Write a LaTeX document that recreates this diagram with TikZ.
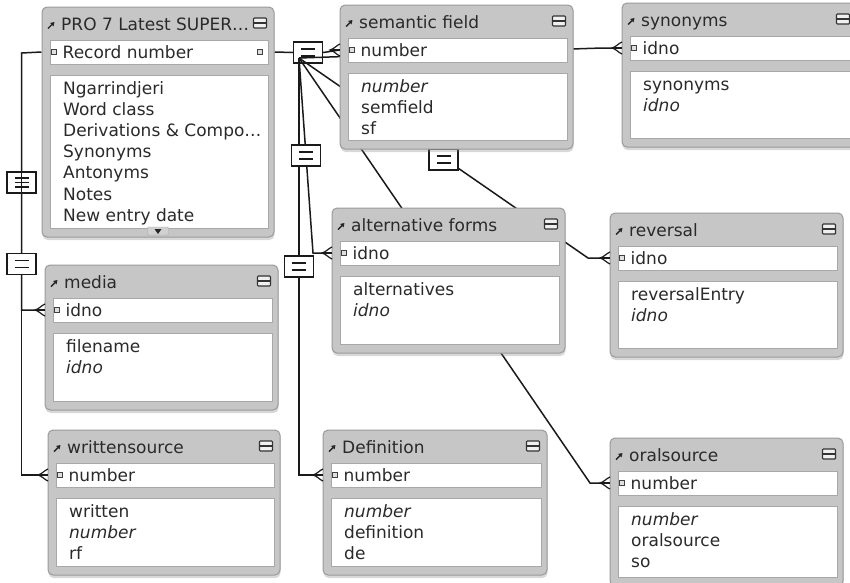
\documentclass[tikz,border=0pt]{standalone}
\usepackage{fontspec}
\setmainfont{DejaVu Sans}
\usetikzlibrary{fit,calc,shadows,arrows.meta}
\definecolor{txt}{HTML}{2A2A2A}
\definecolor{frm}{HTML}{C6C6C6}
\definecolor{frmline}{HTML}{9A9A9A}
\definecolor{pnl}{HTML}{A8A8A8}
\definecolor{rel}{HTML}{1A1A1A}
\pgfdeclarelayer{bg}
\pgfsetlayers{bg,main}
\tikzset{
  frame/.style={draw=frmline, fill=frm, rounded corners=5pt, line width=1pt, inner sep=0pt,
    drop shadow={shadow xshift=0.5pt, shadow yshift=-3pt, opacity=0.3}},
  panel/.style={draw=pnl, fill=white, line width=0.8pt, inner sep=0pt},
  ttl/.style={anchor=base west, inner sep=0pt, text=txt, font=\fontsize{17}{20}\selectfont},
  fld/.style={anchor=base west, inner sep=0pt, text=txt, font=\fontsize{17}{20}\selectfont},
  kbul/.style={draw=black!75, fill=black!12, minimum size=4.5pt, inner sep=0pt, line width=0.8pt},
  minbtn/.style={draw=black!80, fill=black!6, rounded corners=0.8pt, minimum width=13pt,
    minimum height=10pt, inner sep=0pt, line width=1.1pt,
    path picture={\draw[black!80, line width=1.3pt]
      (path picture bounding box.west) -- (path picture bounding box.east);}},
  relline/.style={draw=rel, line width=1.5pt},
  eqbox/.style={draw=rel, fill=white, line width=1.3pt, minimum width=29pt, minimum height=21pt, inner sep=0pt,
    path picture={\draw[rel, line width=1.2pt]
      ([xshift=-7pt,yshift=3.5pt]path picture bounding box.center) -- ([xshift=7pt,yshift=3.5pt]path picture bounding box.center)
      ([xshift=-7pt,yshift=-3.5pt]path picture bounding box.center) -- ([xshift=7pt,yshift=-3.5pt]path picture bounding box.center);}},
  eqboxiii/.style={draw=rel, fill=white, line width=1.3pt, minimum width=29pt, minimum height=21pt, inner sep=0pt,
    path picture={\draw[rel, line width=1.2pt]
      ([xshift=-7pt,yshift=4.5pt]path picture bounding box.center) -- ([xshift=7pt,yshift=4.5pt]path picture bounding box.center)
      ([xshift=-7pt]path picture bounding box.center) -- ([xshift=7pt]path picture bounding box.center)
      ([xshift=-7pt,yshift=-4.5pt]path picture bounding box.center) -- ([xshift=7pt,yshift=-4.5pt]path picture bounding box.center);}},
  crow/.pic={\draw[rel, line width=1.5pt] (-10,0) -- (0,0);
    \draw[rel, line width=1.2pt] (0,-6) .. controls (-3,-5) and (-6,-1) .. (-10,0) .. controls (-6,1) and (-3,5) .. (0,6);},
}
\newcommand\tbl[8]{%
  \node[frame, fit={(#2,#3) (#4,#5)}] (#1) {};
  \node[panel, fit={({#2+8},{#3+33}) ({#4-6},{#3+57})}] (#1-key) {};
  \node[panel, fit={({#2+8},{#3+68}) ({#4-6},{#5-9})}] (#1-body) {};
  \node[ttl] (#1-title) at ({#2+19},{#3+23}) {#6};
  \node[minbtn] (#1-min) at ({#4-14},{#3+16}) {};
  \draw[-{Triangle[length=3.8pt,width=4.6pt]}, line width=1.4pt, black!85] ({#2+6},{#3+21.5}) -- ({#2+12.5},{#3+15});
  \node[kbul] (#1-kb) at ({#2+12},{#3+45}) {};
  \node[fld] (#1-keytext) at ({#2+20.5},{#3+51.5}) {#7};
  \foreach \fx [count=\i from 0] in {#8} {\node[fld] (#1-f\i) at ({#2+21},{#3+87+21.2*\i}) {\fx};}
  \coordinate (#1-in) at (#2,{#3+45});
}
\begin{document}
\begin{tikzpicture}[x=1pt,y=-1pt]
\useasboundingbox (0,0) rectangle (850,582);

% tables
\tbl{pro}{42}{7}{274}{237}{PRO 7 Latest SUPER…}{Record number}{Ngarrindjeri,Word class,Derivations \& Compo…,Synonyms,Antonyms,Notes,New entry date}
\node[kbul] (pro-kb2) at (260,52) {};
\node[fill=black!18, draw=black!35, minimum width=21pt, minimum height=8pt, inner sep=0pt, rounded corners=1pt] (pro-scroll) at (158,231) {};
\fill[black!85] (154.5,229) -- (161.5,229) -- (158,234) -- cycle;
\tbl{sem}{340}{5}{573}{149}{semantic field}{number}{{\itshape number},semfield,sf}
\tbl{syn}{622}{3}{857}{147}{synonyms}{idno}{synonyms,{\itshape idno}}
\tbl{alt}{332}{208}{565}{353}{alternative forms}{idno}{alternatives,{\itshape idno}}
\tbl{rev}{610}{213}{843}{357}{reversal}{idno}{reversalEntry,{\itshape idno}}
\tbl{media}{45}{265}{278}{410}{media}{idno}{filename,{\itshape idno}}
\tbl{ws}{48}{430}{280}{575}{writtensource}{number}{written,{\itshape number},rf}
\tbl{def}{323}{430}{547}{575}{Definition}{number}{{\itshape number},definition,de}
\tbl{oral}{610}{438}{843}{586}{oralsource}{number}{{\itshape number},oralsource,so}

% relationships (behind the tables)
\begin{pgfonlayer}{bg}
  \fill[white] (0,0) rectangle (850,582);
  \coordinate (L) at (21.5,53);
  \coordinate (P) at (299,58);
  \coordinate (synS) at ($(syn-in)+(-20,0)$);
  \coordinate (altS) at ($(alt-in)+(-19,0)$);
  \coordinate (defS) at (P |- def-in);
  \coordinate (revS) at ($(rev-in)+(-22,0)$);
  \coordinate (oralS) at ($(oral-in)+(-20,0)$);
  % left side
  \draw[relline] (pro.west |- pro-key.center) -- (L) -- (L |- media-in) -- (media-in);
  \node[eqboxiii] (eqM) at (21.5,182.5) {};
  \draw[relline] (L) -- (L |- ws-in) -- (ws-in);
  \node[eqbox] (eqW) at (21.5,264) {};
  % right side
  \node[eqbox] (eqS) at (308,52.5) {};
  \draw[relline] (pro.east |- pro-key.center) -- (eqS.west);
  \draw[relline] (eqS.east) -- (sem-in);
  \draw[relline] (P) -- (synS) -- (syn-in);
  \draw[relline] (P) -- (altS) -- (alt-in);
  \draw[relline] (P) -- (defS) -- (def-in);
  \draw[relline] (P) -- (revS) -- (rev-in);
  \draw[relline] (P) -- (oralS) -- (oral-in);
  \node[eqbox] (eqA) at ($(P)!0.5!(altS)$) {};
  \node[eqbox] (eqD) at ($(P)!0.5!(defS)$) {};
  \node[eqbox] (eqR) at ($(P)!0.5!(revS)+(0,1.5)$) {};
\end{pgfonlayer}

% crow's feet
\pic at (media-in) {crow};
\pic at (ws-in) {crow};
\pic at (sem-in) {crow};
\pic at (syn-in) {crow};
\pic at (alt-in) {crow};
\pic at (def-in) {crow};
\pic at (rev-in) {crow};
\pic at (oral-in) {crow};
\end{tikzpicture}
\end{document}
